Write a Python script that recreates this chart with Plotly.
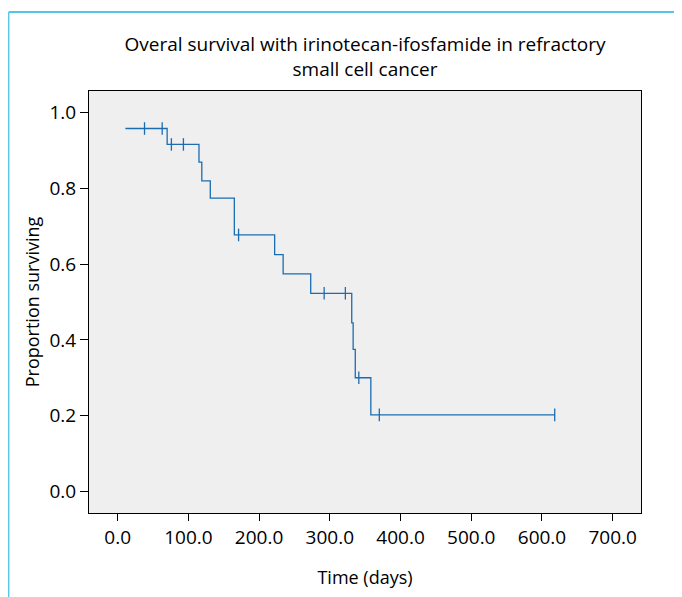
import plotly.graph_objects as go

# Kaplan-Meier step data
step_times = [11, 70, 115, 119, 131, 165, 222, 234, 273, 331, 333, 336, 358]
step_surv = [0.958, 0.916, 0.869, 0.820, 0.774, 0.677, 0.625, 0.574, 0.523, 0.445, 0.375, 0.300, 0.202]
end_time = 618
censor_times = [38, 63, 76, 93, 171, 292, 322, 341, 370, 618]

x_tickvals = [0, 100, 200, 300, 400, 500, 600, 700]
x_ticktext = ["0.0", "100.0", "200.0", "300.0", "400.0", "500.0", "600.0", "700.0"]
y_tickvals = [0.0, 0.2, 0.4, 0.6, 0.8, 1.0]
y_ticktext = ["0.0", "0.2", "0.4", "0.6", "0.8", "1.0"]

title_text = "Overal survival with irinotecan-ifosfamide in refractory<br>small cell cancer"

line_x = step_times + [end_time]
line_y = step_surv + [step_surv[-1]]


def surv_at(t):
    s = step_surv[0]
    for tt, ss in zip(step_times, step_surv):
        if t >= tt:
            s = ss
    return s


censor_y = [surv_at(t) for t in censor_times]

color = "#1c6db0"
font = "Open Sans"
W, H = 682, 597
L, T = 81, 83          # page is offset 8px by body margin
PW, PH = 552, 421.6
R = W - L - PW
B = H - T - PH

fig = go.Figure()
fig.add_trace(go.Scatter(x=line_x, y=line_y, mode="lines", line=dict(shape="hv", color=color, width=1.3),
                         hoverinfo="skip", showlegend=False))
fig.add_trace(go.Scatter(x=censor_times, y=censor_y, mode="markers",
                         marker=dict(symbol="line-ns", size=9, line=dict(color=color, width=1.3)),
                         showlegend=False))

top_y = 1 + (T - 4) / PH
left_x = (0.7 - L) / PW

fig.update_layout(
    width=W, height=H,
    margin=dict(l=L, r=R, t=T, b=B),
    paper_bgcolor="white",
    plot_bgcolor="#efefef",
    font=dict(family=font, size=19, color="black"),
    title=dict(text=title_text, x=0.5, xanchor="center", xref="paper",
               y=1 - 43 / H, yanchor="top", font=dict(family=font, size=19, color="black")),
    xaxis=dict(range=[-40.5, 740], tickvals=x_tickvals, ticktext=x_ticktext,
               showgrid=False, zeroline=False, showline=True, mirror=True,
               linecolor="black", linewidth=1, ticks="outside", ticklen=7, tickcolor="black",
               title=dict(text="Time (days)", standoff=22, font=dict(size=18))),
    yaxis=dict(range=[-0.057, 1.057], tickvals=y_tickvals, ticktext=y_ticktext,
               showgrid=False, zeroline=False, showline=True, mirror=True,
               linecolor="black", linewidth=1, ticks="outside", ticklen=8, tickcolor="black",
               title=dict(text="Proportion surviving", standoff=5, font=dict(size=18))),
    shapes=[
        dict(type="line", xref="paper", yref="paper", x0=left_x, x1=1.2, y0=top_y, y1=top_y,
             line=dict(color="#1ab2e2", width=1.5)),
        dict(type="line", xref="paper", yref="paper", x0=left_x, x1=left_x, y0=top_y, y1=-0.3,
             line=dict(color="#5cc8e8", width=1.5)),
    ],
)

fig.write_html("out.html")
